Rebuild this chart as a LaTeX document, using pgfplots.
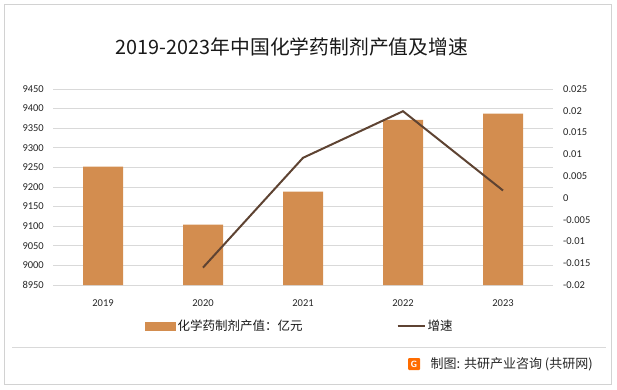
\documentclass[border=0pt]{standalone}
\usepackage{fontspec}
\setmainfont{Carlito}
\newfontfamily\cjk{Noto Sans CJK SC}
\usepackage{pgfplots}
\pgfplotsset{compat=1.18}
\definecolor{barc}{RGB}{211,141,79}
\definecolor{linec}{RGB}{94,67,50}
\definecolor{gridc}{RGB}{217,217,217}
\definecolor{framec}{RGB}{210,210,210}
\begin{document}
\begin{tikzpicture}[x=1pt,y=1pt]
\useasboundingbox (0,0) rectangle (617,389);
\draw[framec, line width=0.8pt] (4,5) rectangle (611,385);
\draw[gridc, line width=0.8pt] (12,42) -- (606,42);
\node[font=\cjk\fontsize{19.8}{23}\selectfont, anchor=center, text=black!90] at (292,342) {2019-2023年中国化学药制剂产值及增速};
\begin{axis}[at={(53pt,104pt)}, anchor=south west, scale only axis,
  width=500pt, height=196pt,
  xmin=-0.5, xmax=4.5, ymin=8950, ymax=9450,
  ytick={8950,9000,...,9450},
  xtick={0,1,2,3,4}, xticklabels={2019,2020,2021,2022,2023},
  ymajorgrids, grid style={gridc, line width=0.7pt},
  axis line style={draw=none}, major tick length=0pt,
  scaled y ticks=false,
  /pgf/number format/1000 sep={},
  /pgf/number format/assume math mode=true,
  yticklabel style={font=\fontsize{10.5}{12}\selectfont, text=black!85, inner sep=0pt, xshift=-9pt},
  xticklabel style={font=\fontsize{10.5}{12}\selectfont, text=black!85, inner sep=0pt, anchor=center, yshift=-18pt},
]
\addplot[ybar, bar width=40pt, fill=barc, draw=none] coordinates {(0,9252) (1,9104) (2,9188) (3,9371) (4,9387)};
\end{axis}
\begin{axis}[at={(53pt,104pt)}, anchor=south west, scale only axis,
  width=500pt, height=196pt,
  xmin=-0.5, xmax=4.5, ymin=-0.02, ymax=0.025,
  axis x line=none, axis y line*=right,
  axis line style={draw=none}, major tick length=0pt,
  scaled y ticks=false,
  ytick={-0.02,-0.015,-0.01,-0.005,0,0.005,0.01,0.015,0.02,0.025},
  yticklabels={-0.02,-0.015,-0.01,-0.005,0,0.005,0.01,0.015,0.02,0.025},
  yticklabel style={font=\fontsize{10.5}{12}\selectfont, text=black!85, inner sep=0pt, xshift=10pt},
  legend columns=2,
  legend style={draw=none, fill=none, inner sep=0pt, at={(0.184,-0.209)}, anchor=west,
    font=\cjk\fontsize{12.5}{14}\selectfont, text=black!90,
    /tikz/every even column/.append style={column sep=92pt}},
  legend cell align=left,
]
\addlegendimage{legend image code/.code={\fill[barc] (0pt,-4pt) rectangle (30pt,4pt);}}
\addlegendentry{化学药制剂产值：亿元}
\addplot[linec, line width=2pt, legend image code/.code={\draw[linec, line width=2pt] (0pt,0pt) -- (27pt,0pt);}] coordinates {(1,-0.0160) (2,0.0092) (3,0.0199) (4,0.0017)};
\addlegendentry{增速}
\end{axis}
\fill[orange!85!red, rounded corners=1pt] (408,19) rectangle (420,31);
\node[font=\sffamily\bfseries\fontsize{9}{9}\selectfont, text=white] at (414,25) {G};
\node[font=\cjk\fontsize{13}{15}\selectfont, anchor=west, text=black!85] at (427,25) {制图: 共研产业咨询 (共研网)};
\end{tikzpicture}
\end{document}
